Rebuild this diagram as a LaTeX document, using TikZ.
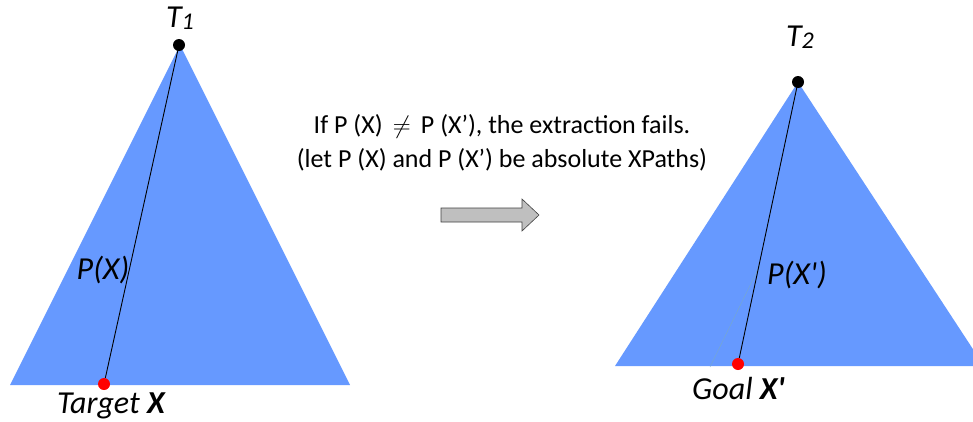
\documentclass[tikz,border=0pt]{standalone}
\usepackage{fontspec}
\setmainfont{Carlito}
\begin{document}
\begin{tikzpicture}[x=1pt,y=-1pt,
  tri/.style={fill=triblue,draw=none},
  pathline/.style={draw=black,line width=0.9pt},
  blackdot/.style={circle,fill=black,inner sep=0pt,minimum size=12pt},
  reddot/.style={circle,fill=red,inner sep=0pt,minimum size=12pt},
  lbl/.style={font=\fontsize{32}{36}\selectfont\itshape,inner sep=0pt},
  caption/.style={font=\fontsize{26}{34}\selectfont,align=center,inner sep=0pt}]
\definecolor{triblue}{RGB}{102,153,255}
\definecolor{arrowgray}{RGB}{191,191,191}
\definecolor{faintblue}{RGB}{120,170,200}
\useasboundingbox (0,0) rectangle (973,421);
\clip (0,0) rectangle (973,421);
% left triangle
\fill[tri] (180,45) -- (10,385) -- (350,385) -- cycle;
\node[blackdot] (t1) at (179,45) {};
\node[reddot] (x1) at (104,384) {};
\draw[pathline] (t1.center) -- (x1);
\node[lbl] (t1l) at (180,18) {T\raisebox{-0.15ex}{\fontsize{24}{26}\selectfont 1}};
\node[lbl] (px) at (103,270) {P(X)};
\node[lbl,anchor=west] (tx) at (57,406) {Target \textbf{X}};
% right triangle
\fill[tri] (798,82) -- (615,366) -- (984,366) -- cycle;
\node[blackdot] (t2) at (798,82) {};
\node[reddot] (x2) at (738,364) {};
\coordinate (fa) at (710,367);
\coordinate (fb) at (760,265);
\draw[faintblue,line width=0.4pt] (fa) -- (fb);
\draw[pathline] (t2.center) -- (x2);
\node[lbl] (t2l) at (800,37) {T\raisebox{-0.15ex}{\fontsize{24}{26}\selectfont 2}};
\node[lbl,anchor=west] (pxp) at (767,275) {P(X\textquotesingle)};
\node[lbl,anchor=west] (gx) at (692,388) {Goal \textbf{X\textquotesingle}};
% caption
\node[caption] (cap) at (502,143) {If P (X) \,$\neq$\, P (X’), the extraction fails.\\(let P (X) and P (X’) be absolute XPaths)};
% arrow
\draw[fill=arrowgray,draw=black!75,line width=0.6pt] (441,208) -- (522,208) -- (522,199) -- (539,215) -- (522,231) -- (522,222) -- (441,222) -- cycle;
\end{tikzpicture}
\end{document}
